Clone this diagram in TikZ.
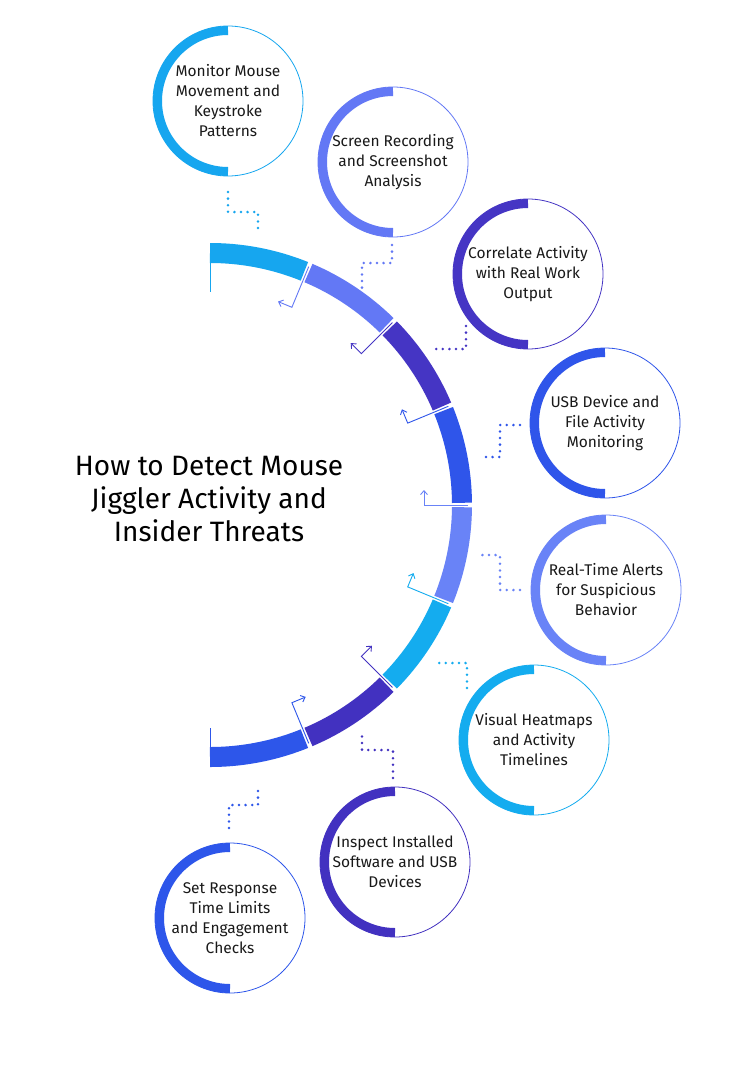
\documentclass[tikz,border=0pt]{standalone}
\usepackage{fontspec}
\setmainfont{Fira Sans}
\usetikzlibrary{arrows.meta,calc}
\definecolor{cA}{HTML}{16A6EF}
\definecolor{cB}{HTML}{6378F5}
\definecolor{cC}{HTML}{4535C4}
\definecolor{cD}{HTML}{2F55EA}
\definecolor{cE}{HTML}{6983F7}
\definecolor{cF}{HTML}{14ACEF}
\definecolor{cG}{HTML}{4231C0}
\definecolor{cH}{HTML}{2D56EA}
\begin{document}
\begin{tikzpicture}[x=1pt,y=-1pt,
  step/.style={circle,draw=#1,line width=0.8pt,minimum size=150pt,inner sep=0pt,align=center,font=\fontsize{15.5}{20}\selectfont,text=black!90},
  dots/.style={draw=#1,line width=2.8pt,line cap=round,dash pattern=on 0pt off 6.6pt},
  seg/.style={draw=#1,line width=20pt},
  mark/.style={draw=#1,line width=0.9pt,-{Straight Barb[length=4pt,width=7pt]}}]
\useasboundingbox (0,0) rectangle (732,1074);
\fill[white] (0,0) rectangle (732,1074);
% arc segments
\def\cx{210}\def\cy{505}\def\R{252}
\foreach \c [count=\i] in {cA,cB,cC,cD,cE,cF,cG,cH}{
  \pgfmathsetmacro\aS{-90+22.5*(\i-1)+(\i>1?0.5:0)}
  \pgfmathsetmacro\aE{-90+22.5*\i-(\i<8?0.5:0)}
  \draw[seg=\c] ({\cx+\R*cos(\aS)},{\cy+\R*sin(\aS)}) arc[start angle=\aS,end angle=\aE,radius=\R];
}
\draw[cA,line width=1.5pt] (210.7,243) -- (210.7,292);
\draw[cH,line width=1.5pt] (210.7,728) -- (210.7,767);
% boundary markers
\foreach \c [count=\k] in {cB,cC,cD,cE,cF,cG,cH}{
  \pgfmathsetmacro\ph{-90+22.5*\k}
  \coordinate (m\k a) at ({\cx+258*cos(\ph)},{\cy+258*sin(\ph)});
  \coordinate (m\k b) at ({\cx+214*cos(\ph)},{\cy+214*sin(\ph)});
  \coordinate (m\k c) at ($(m\k b)+({15*sin(\ph)},{-15*cos(\ph)})$);
  \draw[mark=\c] (m\k a) -- (m\k b) -- (m\k c);
}
% circles
\newcommand\stepc[5]{%
  \node[step=#4] (#1) at (#2,#3) {#5};
  \draw[#4,line width=9pt] ($(#1.center)+(0,-70.5)$) arc[start angle=-90,end angle=-270,radius=70.5];
}
\stepc{s1}{228}{101}{cA}{Monitor Mouse\\Movement and\\Keystroke\\Patterns}
\stepc{s2}{393}{162}{cB}{Screen Recording\\and Screenshot\\Analysis}
\stepc{s3}{528}{274}{cC}{Correlate Activity\\with Real Work\\Output}
\stepc{s4}{605}{423}{cD}{USB Device and\\File Activity\\Monitoring}
\stepc{s5}{606}{590}{cE}{Real-Time Alerts\\for Suspicious\\Behavior}
\stepc{s6}{534}{740}{cF}{Visual Heatmaps\\and Activity\\Timelines}
\stepc{s7}{395}{862}{cG}{Inspect Installed\\Software and USB\\Devices}
\stepc{s8}{230}{918}{cH}{Set Response\\Time Limits\\and Engagement\\Checks}
% dotted connectors
\coordinate (d1) at (258,230); \draw[dots=cA] (228,192) -- (228,212) -- (258,212) -- (d1);
\coordinate (d2) at (362,290); \draw[dots=cB] (392,245) -- (392,263) -- (362,263) -- (d2);
\coordinate (d3) at (435,349); \draw[dots=cC] (466,326) -- (466,349) -- (d3);
\coordinate (d4) at (480,457); \draw[dots=cD] (520,425) -- (500,425) -- (500,457) -- (d4);
\coordinate (d5) at (480,555); \draw[dots=cE] (520,590) -- (500,590) -- (500,555) -- (d5);
\coordinate (d6) at (435,663); \draw[dots=cF] (467,688) -- (467,663) -- (d6);
\coordinate (d7) at (362,735); \draw[dots=cG] (393,778) -- (393,750) -- (362,750) -- (d7);
\coordinate (d8) at (258,785); \draw[dots=cH] (229,828) -- (229,805) -- (258,805) -- (d8);
% title
\node[align=center,font=\fontsize{28}{33}\selectfont,text=black] (title) at (209,499) {How to Detect Mouse\\Jiggler Activity and\\Insider Threats};
\end{tikzpicture}
\end{document}
